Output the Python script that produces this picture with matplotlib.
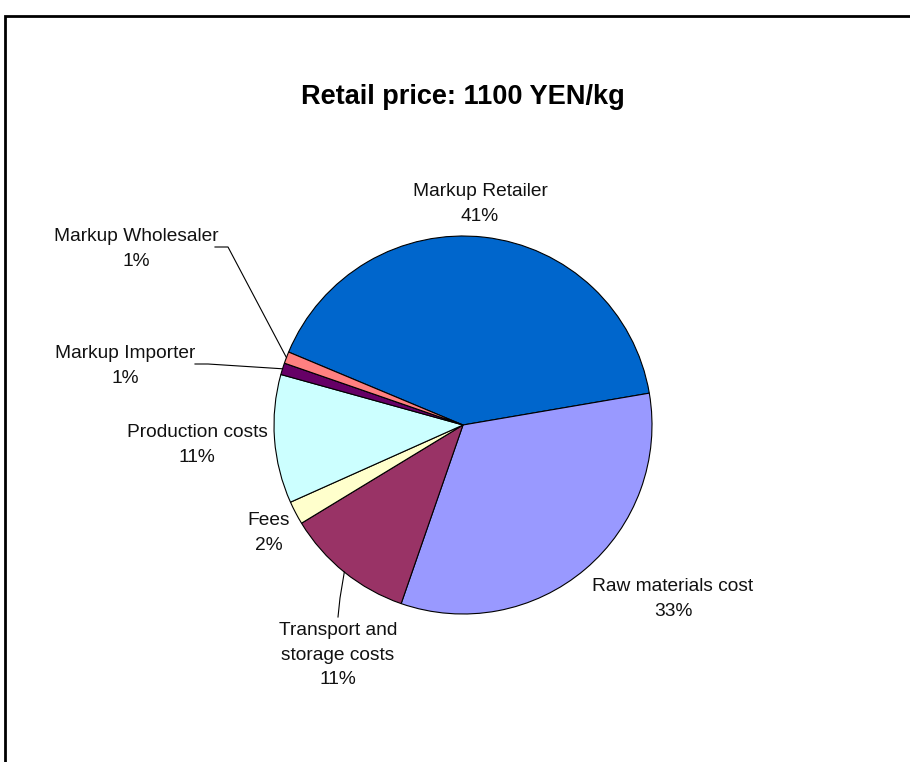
import matplotlib.pyplot as plt
from matplotlib.patches import Rectangle
import numpy as np

plt.rcParams['font.family'] = ['Liberation Sans', 'DejaVu Sans']

# data
categories = ["Markup Retailer", "Raw materials cost", "Transport and\nstorage costs",
              "Fees", "Production costs", "Markup Importer", "Markup Wholesaler"]
shares = [41, 33, 11, 2, 11, 1, 1]
colors = ["#0066CC", "#9999FF", "#993366", "#FFFFCC", "#CCFFFF", "#660066", "#FF8080"]
title = "Retail price: 1100 YEN/kg"

W, H = 910, 762
cx, cy, R = 463, 425, 189   # pie centre / radius in pixels
half = 300

fig = plt.figure(figsize=(W / 100, H / 100), dpi=100)
ax = fig.add_axes([(cx - half) / W, (H - cy - half) / H, 2 * half / W, 2 * half / H])

wedges, _ = ax.pie(shares, colors=colors, startangle=157.3, counterclock=False,
                   radius=1.0, wedgeprops=dict(edgecolor="black", linewidth=0.8))
ax.set_xlim(-half / R, half / R)
ax.set_ylim(-half / R, half / R)
ax.axis("off")


def px(x, y):
    # pixel position -> data coords
    return (x - cx) / R, (cy - y) / R


# label positions (pixel coords of the text centre)
label_pos = [(480, 204), (673, 599), (338, 655), (269, 533), (197, 445), (125, 366), (136, 249)]
for name, val, (lx, ly) in zip(categories, shares, label_pos):
    x, y = px(lx, ly)
    ax.text(x, y, f"{name}\n{val}%", ha="center", va="center", fontsize=13.8,
            linespacing=1.55, color="#111111")

# leader lines for small / crowded slices
def edge_point(w):
    a = np.deg2rad((w.theta1 + w.theta2) / 2)
    return np.cos(a), np.sin(a)

leaders = {6: [(215, 247), (228, 247)], 5: [(195, 364), (208, 364)], 2: [(338, 617), (340, 598)]}
for i, pts in leaders.items():
    xs = [px(*p)[0] for p in pts]
    ys = [px(*p)[1] for p in pts]
    ex, ey = edge_point(wedges[i])
    ax.plot(xs + [ex], ys + [ey], color="black", linewidth=0.8)

ax.text(0, px(0, 97)[1], title, ha="center", va="center", fontsize=19.5, fontweight="bold")

# outer frame (runs off the right/bottom edge)
fig.patches.append(Rectangle((5 / W, -0.1), 1.2, 1 - 16 / H + 0.1, transform=fig.transFigure,
                             fill=False, edgecolor="black", linewidth=2))

fig.savefig("out.png", dpi=100)
